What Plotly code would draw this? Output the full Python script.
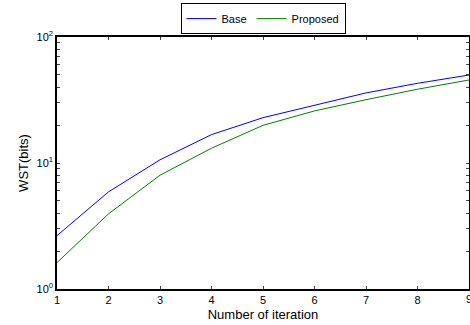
import plotly.graph_objects as go

iterations = [1, 2, 3, 4, 5, 6, 7, 8, 9]
base_wst = [2.65, 5.9, 10.6, 16.8, 22.9, 28.9, 36.0, 42.9, 49.9]
proposed_wst = [1.62, 3.95, 8.0, 13.1, 19.9, 25.9, 31.8, 38.5, 45.6]

y_tickvals = [1, 2, 3, 4, 5, 6, 7, 8, 9, 10, 20, 30, 40, 50, 60, 70, 80, 90, 100]
y_ticktext = ["10<sup>0</sup>", "", "", "", "", "", "", "", "",
              "10<sup>1</sup>", "", "", "", "", "", "", "", "",
              "10<sup>2</sup>"]

fig = go.Figure()
fig.add_trace(go.Scatter(x=iterations, y=base_wst, mode="lines", name="Base",
                         line=dict(color="#0000ff", width=1)))
fig.add_trace(go.Scatter(x=iterations, y=proposed_wst, mode="lines", name="Proposed",
                         line=dict(color="#008000", width=1)))

font_family = "Liberation Sans, Arial, Helvetica, sans-serif"
fig.update_layout(
    width=470, height=325,
    margin=dict(l=57, r=1, t=37, b=36, autoexpand=False),
    paper_bgcolor="white", plot_bgcolor="white",
    font=dict(family=font_family, size=11, color="black"),
    showlegend=True,
    legend=dict(orientation="h", x=0.5, xanchor="center", y=1.073, yanchor="middle",
                bordercolor="black", borderwidth=1, bgcolor="white",
                font=dict(size=11), tracegroupgap=0),
    xaxis=dict(range=[1, 9], tickvals=iterations, ticks="inside", ticklen=3,
               showline=True, linecolor="black", linewidth=1.5, mirror="ticks",
               showgrid=False, zeroline=False, automargin=False,
               title=dict(text="Number of iteration", font=dict(size=13), standoff=5)),
    yaxis=dict(type="log", range=[0, 2], tickvals=y_tickvals, ticktext=y_ticktext,
               ticks="inside", ticklen=3,
               showline=True, linecolor="black", linewidth=1.5, mirror="ticks",
               showgrid=False, zeroline=False, automargin=False,
               title=dict(text="WST(bits)", font=dict(size=13), standoff=5)),
)

# last tick label, partly cut at the right edge as in the reference
fig.add_annotation(x=iterations[-1], xref="x", y=0, yref="paper", yanchor="top",
                   text=str(iterations[-1]), showarrow=False, yshift=-2,
                   font=dict(size=11))

fig.write_html("out.html", config={"displayModeBar": False},
               post_script="document.body.style.margin='0';document.body.style.overflow='hidden';")
